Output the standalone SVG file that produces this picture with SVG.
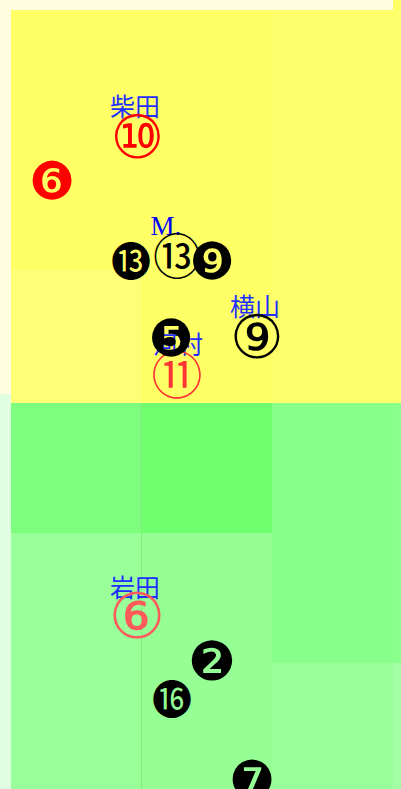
<svg xmlns="http://www.w3.org/2000/svg" width="401" height="789" viewBox="0 0 401 789">
<style>
.lbl{font-family:"Noto Sans CJK JP","DejaVu Sans",sans-serif;font-size:25px;fill:#1f2fff;text-anchor:middle}
.lat{font-family:"Liberation Serif",serif;font-size:27px;fill:#0000ff;text-anchor:middle}
.num{font-family:"DejaVu Serif","DejaVu Sans","Noto Sans CJK JP",sans-serif;text-anchor:middle;dominant-baseline:central}
</style>
<g id="background">
<rect x="0" y="0" width="401" height="789" fill="#fffde0"/>
<rect x="0" y="394" width="11" height="395" fill="#e0ffe0"/>
<rect x="393" y="0" width="8" height="10" fill="#ffff66"/>
</g>
<g id="zones">
<rect x="11" y="10" width="130" height="260" fill="#ffff66"/>
<rect x="11" y="270" width="130" height="133" fill="#ffff77"/>
<rect x="141" y="10" width="131" height="393" fill="#ffff66"/>
<rect x="272" y="10" width="129" height="393" fill="#ffff6c"/>
<rect x="11" y="403" width="130" height="130" fill="#7dff7d"/>
<rect x="141" y="403" width="131" height="130" fill="#70ff6e"/>
<rect x="272" y="403" width="121" height="260" fill="#88ff88"/>
<rect x="393" y="403" width="8" height="260" fill="#8bff8b"/>
<rect x="11" y="533" width="130" height="256" fill="#99ff99"/>
<rect x="141" y="533" width="131" height="256" fill="#95ff95"/>
<rect x="272" y="663" width="121" height="126" fill="#99ff99"/>
<rect x="393" y="663" width="8" height="126" fill="#a3ffa3"/>
<line x1="141.5" y1="403" x2="141.5" y2="789" stroke="#7aef7a" stroke-width="1"/>
</g>
<g id="connectors"/>
<g id="shibata">
<text class="lbl" x="135" y="116">柴田</text>
<text class="num" x="137.5" y="137" fill="#ff0000" font-size="60">⑩</text>
</g>
<g id="red6"><text class="num" x="52" y="181" fill="#ff0000" font-size="52">❻</text></g>
<g id="black13"><text class="num" x="131" y="262" fill="#000" font-size="40">⓭</text></g>
<g id="m13">
<text class="lat" x="166" y="235">M.</text>
<text class="num" x="177" y="257" fill="#000" font-size="48">⑬</text>
</g>
<g id="black9"><text class="num" x="212" y="261" fill="#000" font-size="51">❾</text></g>
<g id="yokoyama">
<text class="lbl" x="255" y="316">横山</text>
<text class="num" x="257" y="337" fill="#000" font-size="60">⑨</text>
</g>
<g id="kawamura">
<text class="lbl" x="178" y="354">河村</text>
<text class="num" x="177" y="376" fill="#ff3333" font-size="51">⑪</text>
</g>
<g id="black5"><text class="num" x="171" y="338" fill="#000" font-size="51">❺</text></g>
<g id="iwata">
<text class="lbl" x="135" y="597">岩田</text>
<text class="num" x="137" y="616" fill="#ff5a5a" font-size="63">⑥</text>
</g>
<g id="black2"><text class="num" x="212" y="661" fill="#000" font-size="54">❷</text></g>
<g id="black16"><text class="num" x="172" y="700" fill="#000" font-size="40">⓰</text></g>
<g id="black7"><text class="num" x="252" y="780" fill="#000" font-size="52">❼</text></g>
</svg>
